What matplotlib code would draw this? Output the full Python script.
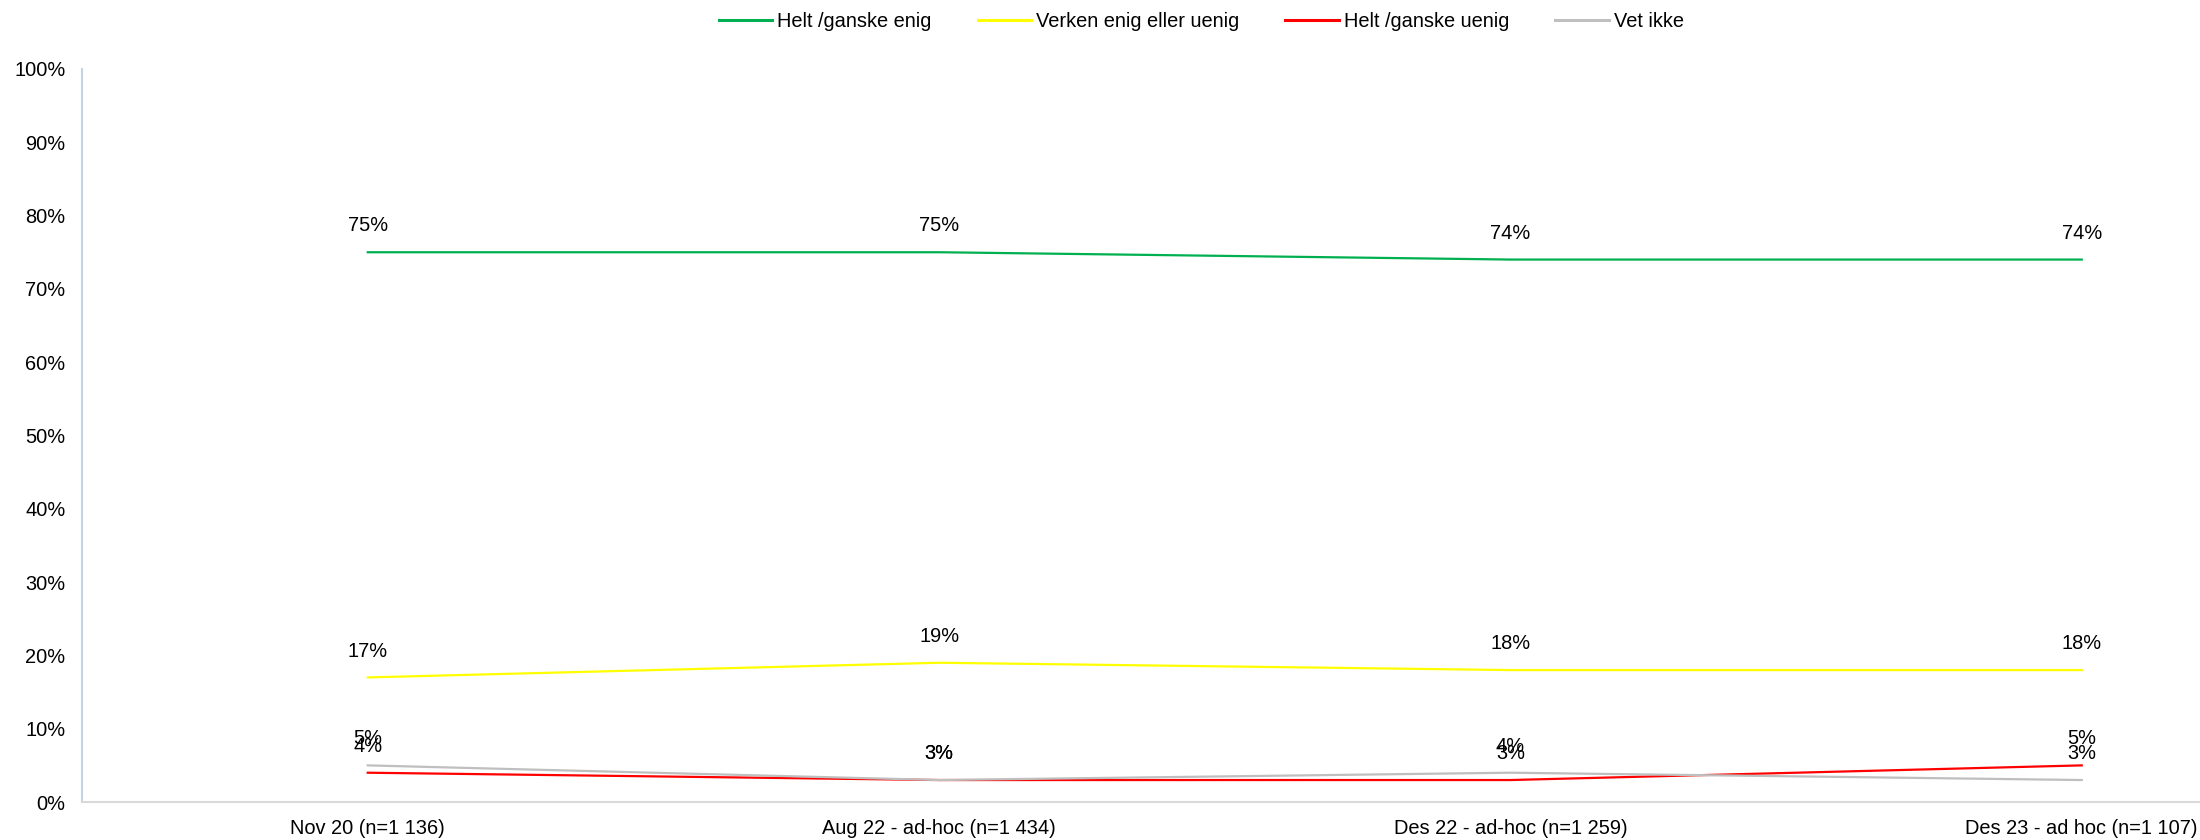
import matplotlib.pyplot as plt
from matplotlib.ticker import PercentFormatter

plt.rcParams['font.family'] = ['Liberation Sans', 'DejaVu Sans']

# survey waves
categories = ['Nov 20 (n=1 136)', 'Aug 22 - ad-hoc (n=1 434)',
              'Des 22 - ad-hoc (n=1 259)', 'Des 23 - ad hoc (n=1 107)']

# answer shares in percent
enig = [75, 75, 74, 74]
verken = [17, 19, 18, 18]
uenig = [4, 3, 3, 5]
vet_ikke = [5, 3, 4, 3]

series_names = ['Helt /ganske enig', 'Verken enig eller uenig',
                'Helt /ganske uenig', 'Vet ikke']
series_colors = ['#00B050', '#FFFF00', '#FF0000', '#BFBFBF']

fig = plt.figure(figsize=(22, 8.4), dpi=100)
ax = fig.add_axes([0.0373, 0.0452, 0.9627, 0.8727])

x = list(range(len(categories)))
for vals, name, col in zip([enig, verken, uenig, vet_ikke], series_names, series_colors):
    ax.plot(x, vals, color=col, lw=1.6, label=name)
    # value labels sit just above each point (they overlap where values are close, as in the original)
    for xi, v in zip(x, vals):
        ax.annotate(f'{v}%', xy=(xi, v), xytext=(0, 19), textcoords='offset points',
                    ha='center', va='center', fontsize=14.4, color='black')

ax.set_ylim(0, 100)
ax.set_xlim(-0.5, 3.207)
ax.set_yticks(range(0, 101, 10))
ax.yaxis.set_major_formatter(PercentFormatter(decimals=0))
ax.set_xticks(x)
ax.set_xticklabels(categories)
ax.tick_params(axis='both', length=0, labelsize=14.4)
ax.tick_params(axis='y', pad=12)
ax.tick_params(axis='x', pad=12)

for s in ['top', 'right']:
    ax.spines[s].set_visible(False)
ax.spines['left'].set_color('#C5D3E8')
ax.spines['bottom'].set_color('#D9D9D9')
ax.spines['left'].set_linewidth(1.5)
ax.spines['bottom'].set_linewidth(1.5)

leg = fig.legend(loc='center', bbox_to_anchor=(0.546, 0.974), ncol=4, frameon=False,
                 fontsize=14.4, handlelength=2.67, handletextpad=0.25, columnspacing=2.3)
for line in leg.get_lines():
    line.set_linewidth(2.2)

fig.savefig('out.png', dpi=100)
